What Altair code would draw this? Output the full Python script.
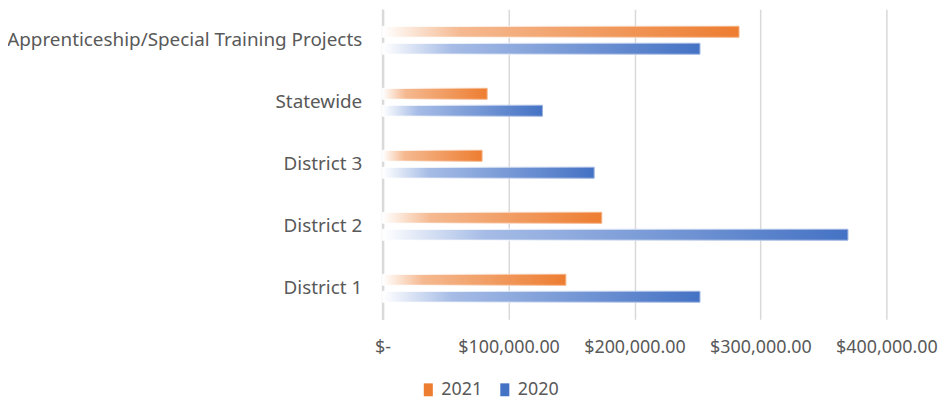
import altair as alt
import pandas as pd

categories = ["Apprenticeship/Special Training Projects", "Statewide", "District 3", "District 2", "District 1"]
years = ["2021", "2020"]
values_2021 = [283000, 83000, 79000, 174000, 145500]
values_2020 = [252000, 127000, 168000, 369500, 252000]
x_ticks = [0, 100000, 200000, 300000, 400000]
year_colors = ["#ED7D31", "#4472C4"]

rows = []
for c, v1, v2 in zip(categories, values_2021, values_2020):
    rows.append({"category": c, "year": "2021", "value": v1})
    rows.append({"category": c, "year": "2020", "value": v2})
df = pd.DataFrame(rows)
legend_df = pd.DataFrame({"year": years})


def grad(light, full):
    return {
        "gradient": "linear",
        "x1": 0, "x2": 1, "y1": 0, "y2": 0,
        "stops": [
            {"offset": 0, "color": "#ffffff"},
            {"offset": 0.22, "color": light},
            {"offset": 1, "color": full},
        ],
    }


orange_fill = grad("#f5b990", "#ED7D31")
blue_fill = grad("#a6bce6", "#4472C4")
orange_stroke = grad("#ffffff", "#f4b183")
blue_stroke = grad("#ffffff", "#9db3e0")

FONT = "Noto Sans"
TXT = "#595959"

x_enc = alt.X(
    "value:Q",
    scale=alt.Scale(domain=[0, 400000], nice=False),
    axis=alt.Axis(
        values=x_ticks,
        labelExpr="datum.value == 0 ? '$-' : '$' + format(datum.value, ',.2f')",
        title=None,
        ticks=False,
        domain=False,
        grid=True,
        gridColor="#d9d9d9",
        gridWidth=1.5,
        labelFont=FONT,
        labelFontSize=18,
        labelColor=TXT,
        labelPadding=19,
        labelOverlap=False,
        labelFlush=False,
    ),
)

y_enc = alt.Y(
    "category:N",
    sort=categories,
    scale=alt.Scale(paddingInner=0.55, paddingOuter=0.275),
    axis=alt.Axis(
        title=None,
        ticks=False,
        domain=True,
        domainColor="#d9d9d9",
        domainWidth=2.5,
        labelFont=FONT,
        labelFontSize=19,
        labelColor=TXT,
        labelPadding=21,
        labelLimit=500,
    ),
)

bars = (
    alt.Chart(df)
    .mark_bar(strokeWidth=1)
    .encode(
        x=x_enc,
        y=y_enc,
        yOffset=alt.YOffset("year:N", scale=alt.Scale(domain=years, paddingInner=0.353)),
        fill=alt.condition(alt.datum.year == "2021", alt.value(orange_fill), alt.value(blue_fill)),
        stroke=alt.condition(alt.datum.year == "2021", alt.value(orange_stroke), alt.value(blue_stroke)),
    )
)

legend_layer = (
    alt.Chart(legend_df)
    .mark_bar(strokeWidth=0)
    .encode(
        x=alt.datum(0),
        color=alt.Color(
            "year:N",
            scale=alt.Scale(domain=years, range=year_colors),
            legend=alt.Legend(
                title=None,
                orient="none",
                direction="horizontal",
                legendX=37,
                legendY=374,
                symbolType="M-0.7,-1H0.7V1H-0.7Z",
                symbolSize=169,
                symbolStrokeWidth=0,
                labelFont=FONT,
                labelFontSize=18,
                labelColor=TXT,
                labelOffset=4,
                columnPadding=13,
            ),
        ),
    )
)

chart = (
    alt.layer(bars, legend_layer)
    .properties(
        width=507,
        height=312,
        autosize=alt.AutoSizeParams(type="none"),
        padding={"left": 377, "top": 0, "right": 57, "bottom": 81},
    )
    .configure_view(stroke=None)
)

chart.save("out.html", embed_options={"renderer": "svg", "actions": False})
